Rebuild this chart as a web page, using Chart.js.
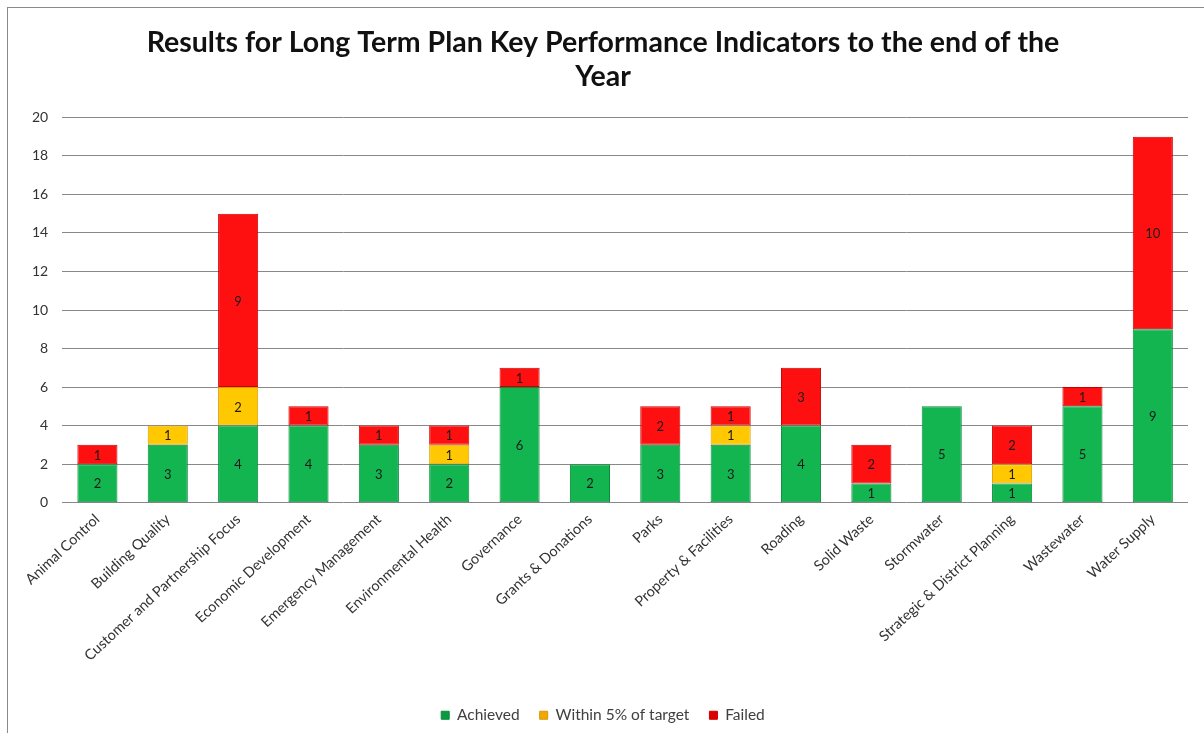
<!DOCTYPE html>
<html>
<head>
<meta charset="utf-8">
<script src="https://cdn.jsdelivr.net/npm/chart.js@4/dist/chart.umd.min.js"></script>
<style>
  html, body { margin: 0; padding: 0; background: #fff; }
  #wrap { position: relative; width: 1204px; height: 733px; }
  #frame { position: absolute; left: 7px; top: 7px; right: -2px; bottom: -2px; border: 1px solid #8a8a8a; pointer-events: none; }
  canvas { display: block; }
</style>
</head>
<body>
<div id="wrap">
  <canvas id="kpiChart" width="1204" height="733"></canvas>
  <div id="frame"></div>
</div>
<script>
// KPI results by activity group
const activities = [
    'Animal Control', 'Building Quality', 'Customer and Partnership Focus',
    'Economic Development', 'Emergency Management', 'Environmental Health',
    'Governance', 'Grants & Donations', 'Parks', 'Property & Facilities',
    'Roading', 'Solid Waste', 'Stormwater', 'Strategic & District Planning',
    'Wastewater', 'Water Supply'
];
const achieved     = [2, 3, 4, 4, 3, 2, 6, 2, 3, 3, 4, 1, 5, 1, 5, 9];
const withinTarget = [0, 1, 2, 0, 0, 1, 0, 0, 0, 1, 0, 0, 0, 1, 0, 0];
const failed       = [1, 0, 9, 1, 1, 1, 1, 0, 2, 1, 3, 2, 0, 2, 1, 10];
const yTicks = [0, 2, 4, 6, 8, 10, 12, 14, 16, 18, 20];

const FONT = 'Lato, "Open Sans", sans-serif';

// write the count inside each stacked segment
const segmentLabels = {
    id: 'segmentLabels',
    afterDatasetsDraw(chart) {
        const ctx = chart.ctx;
        ctx.save();
        ctx.font = '13px ' + FONT;
        ctx.fillStyle = '#1a1a1a';
        ctx.textAlign = 'center';
        ctx.textBaseline = 'middle';
        chart.data.datasets.forEach((ds, i) => {
            const meta = chart.getDatasetMeta(i);
            meta.data.forEach((bar, j) => {
                const v = ds.data[j];
                if (!v) return;
                ctx.fillText(String(v), bar.x, (bar.y + bar.base) / 2 + 1);
            });
        });
        ctx.restore();
    }
};

// soft bevel: darker edges, lighter middle
function bevel(base, edge) {
    return (c) => {
        const el = c.element;
        if (!el || el.x === undefined || !isFinite(el.width)) return base;
        const g = c.chart.ctx.createLinearGradient(el.x - el.width / 2, 0, el.x + el.width / 2, 0);
        g.addColorStop(0, edge);
        g.addColorStop(0.12, base);
        g.addColorStop(0.88, base);
        g.addColorStop(1, edge);
        return g;
    };
}

const ctx = document.getElementById('kpiChart').getContext('2d');
new Chart(ctx, {
    type: 'bar',
    data: {
        labels: activities,
        datasets: [
            {
                label: 'Achieved',
                data: achieved,
                backgroundColor: bevel('#12b550', '#0a9a40'),
                borderColor: '#0d8a3c',
                borderWidth: 1,
                borderSkipped: false
            },
            {
                label: 'Within 5% of target',
                data: withinTarget,
                backgroundColor: bevel('#ffc800', '#f0a800'),
                borderColor: '#d99a00',
                borderWidth: 1,
                borderSkipped: false
            },
            {
                label: 'Failed',
                data: failed,
                backgroundColor: bevel('#ff1010', '#e00000'),
                borderColor: '#c80000',
                borderWidth: 1,
                borderSkipped: false
            }
        ]
    },
    options: {
        responsive: false,
        animation: false,
        datasets: {
            bar: { categoryPercentage: 1, barPercentage: 0.57 }
        },
        layout: {
            padding: { left: 18, right: 16, top: 8, bottom: 0 }
        },
        plugins: {
            title: {
                display: true,
                text: ['Results for Long Term Plan Key Performance Indicators to the end of the', 'Year'],
                color: '#111',
                font: { family: FONT, size: 28.5, weight: 'bold', lineHeight: 1.2 },
                padding: { top: 18, bottom: 23 }
            },
            legend: {
                position: 'bottom',
                labels: {
                    color: '#404040',
                    font: { family: FONT, size: 15.5 },
                    boxWidth: 8,
                    boxHeight: 8,
                    padding: 20
                }
            },
            tooltip: { enabled: false }
        },
        scales: {
            x: {
                stacked: true,
                grid: { display: false },
                border: { display: false },
                // leave a gap between the rotated names and the legend
                afterFit: (scale) => { scale.height += 23; },
                ticks: {
                    color: '#333',
                    font: { family: FONT, size: 14.5 },
                    minRotation: 43,
                    maxRotation: 43,
                    autoSkip: false,
                    padding: 0
                }
            },
            y: {
                stacked: true,
                min: 0,
                max: 20,
                afterBuildTicks: (axis) => { axis.ticks = yTicks.map(v => ({ value: v })); },
                grid: { color: '#888', lineWidth: 1, drawTicks: false },
                border: { display: false },
                ticks: {
                    color: '#333',
                    font: { family: FONT, size: 14 },
                    padding: 14
                }
            }
        }
    },
    plugins: [segmentLabels]
});
</script>
</body>
</html>
